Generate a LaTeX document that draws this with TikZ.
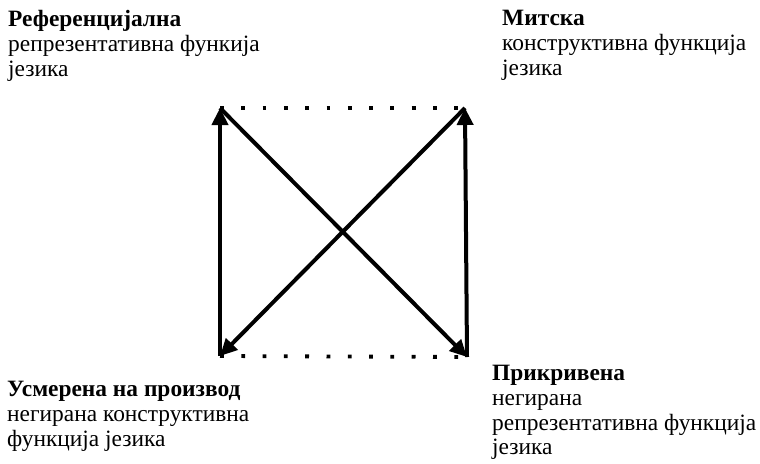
\documentclass[tikz,border=0pt]{standalone}
\usepackage{fontspec}
\setmainfont{Liberation Serif}
\usetikzlibrary{arrows.meta}

\begin{document}
\begin{tikzpicture}[x=1pt, y=-1pt,
  every node/.append style={font=\fontsize{23.4}{24.8}\selectfont},
  term/.style={anchor=north west, align=left, inner sep=0pt},
  side/.style={line width=4pt, -{Triangle[length=17pt,width=16pt]}},
  dots/.style={line width=3.8pt, dash pattern=on 3.8pt off 17.5pt}
]
\useasboundingbox (0,0) rectangle (760,463);
% corners of the square
\coordinate (cRef)  at (220,108);
\coordinate (cMit)  at (465,108);
\coordinate (cUsm)  at (220,356);
\coordinate (cPrik) at (467,357);
% terms
\node[term] (tRef)  at (8,10)    {\textbf{Референцијална}\\репрезентативна функија\\језика};
\node[term] (tMit)  at (502,10)  {\textbf{Митска}\\конструктивна функција\\језика};
\node[term] (tUsm)  at (7,381)   {\textbf{Усмерена на производ}\\негирана конструктивна\\функција језика};
\node[term] (tPrik) at (492,365) {\textbf{Прикривена}\\негирана\\репрезентативна функција\\језика};
% relations
\draw[dots] (cRef) -- (cMit);
\draw[dots] (cUsm) -- (cPrik);
\draw[side] (cUsm) -- (cRef);
\draw[side] (cPrik) -- (cMit);
\draw[side] (cRef) -- (cPrik);
\draw[side] (cMit) -- (cUsm);
\end{tikzpicture}
\end{document}
